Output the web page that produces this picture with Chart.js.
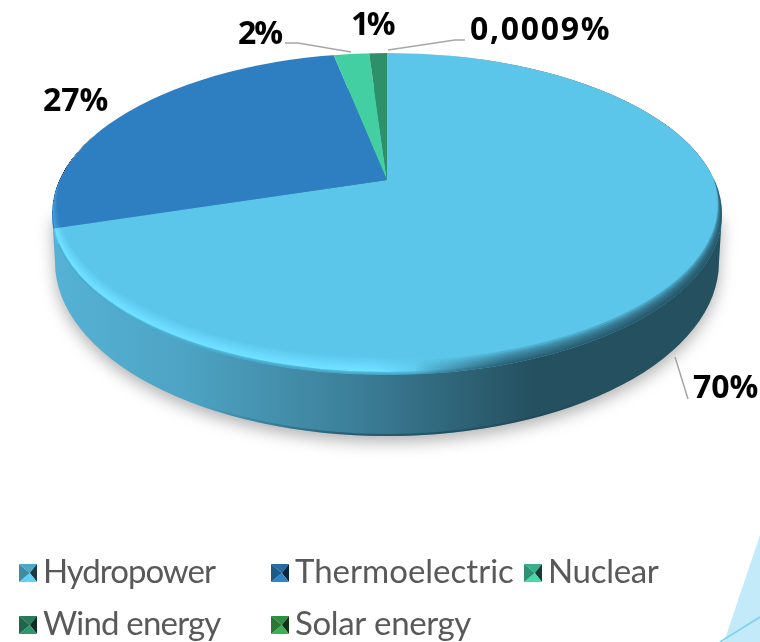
<!DOCTYPE html>
<html>
<head>
<meta charset="utf-8">
<style>
  html, body { margin: 0; padding: 0; background: #fff; }
  canvas { display: block; }
</style>
<script src="https://cdn.jsdelivr.net/npm/chart.js@4/dist/chart.umd.min.js"></script>
</head>
<body>
<canvas id="pie" width="760" height="642"></canvas>
<script>
// data
const categories = ['Hydropower', 'Thermoelectric', 'Nuclear', 'Wind energy', 'Solar energy'];
const shares = [70, 27, 2, 1, 0.0009];
const shareLabels = ['70%', '27%', '2%', '1%', '0,0009%'];
const sliceColors = ['#5bc6ea', '#2d7fc1', '#43cfa1', '#2e8f6b', '#3aa84f'];

// layout of the tilted pie
const topFace = { cx: 387, cy: 214, rx: 335, ry: 161 };
const bottomFace = { cx: 387, cy: 262, rx: 332, ry: 174 };
const apex = { x: 387, y: 180 };
const tilt = 0.447;
const wedgeReach = 450;

// where the value labels and their leader lines sit, same order as categories
const labelSpots = [[693, 398], [43, 111], [238, 44], [351, 35], [470, 40]];
const labelSpacing = ['0px', '0px', '-2px', '-2.5px', '1.7px'];
const leaders = [
    [[675, 357], [688, 399]],
    null,
    [[285, 43], [298, 43], [351, 52]],
    null,
    [[388, 50], [455, 40], [465, 40]]
];
const legendSpots = [[19, 564], [271, 564], [524, 564], [19, 616], [271, 616]];
const legendSpacing = ['-1px', '0px', '-0.3px', '-0.8px', '-0.35px'];

function ellipsePath(ctx, e) {
    ctx.ellipse(e.cx, e.cy, e.rx, e.ry, 0, 0, Math.PI * 2);
}

function shade(hex, f) {
    const n = parseInt(hex.slice(1), 16);
    const ch = s => Math.min(255, Math.round(((n >> s) & 255) * f));
    return `rgb(${ch(16)},${ch(8)},${ch(0)})`;
}

function drawBackdrop(ctx) {
    ctx.fillStyle = '#c2eaf9';
    ctx.beginPath();
    ctx.moveTo(760, 535);
    ctx.lineTo(760, 642);
    ctx.lineTo(724, 642);
    ctx.closePath();
    ctx.fill();
    ctx.strokeStyle = '#7fd0f0';
    ctx.lineWidth = 1.5;
    ctx.beginPath();
    ctx.moveTo(720, 642);
    ctx.lineTo(760, 617);
    ctx.stroke();
}

function drawSideWall(ctx) {
    const g = ctx.createLinearGradient(55, 0, 720, 0);
    g.addColorStop(0, '#55b2d5');
    g.addColorStop(0.2, '#4da3c3');
    g.addColorStop(0.45, '#3c7f99');
    g.addColorStop(0.72, '#25505f');
    g.addColorStop(1, '#25505f');
    ctx.save();
    ctx.shadowColor = 'rgba(0,0,0,0.3)';
    ctx.shadowBlur = 16;
    ctx.shadowOffsetY = 6;
    ctx.fillStyle = g;
    ctx.beginPath();
    ctx.moveTo(topFace.cx - topFace.rx, topFace.cy);
    ctx.lineTo(topFace.cx + topFace.rx, topFace.cy);
    ctx.lineTo(bottomFace.cx + bottomFace.rx, bottomFace.cy);
    ctx.lineTo(bottomFace.cx - bottomFace.rx, bottomFace.cy);
    ctx.closePath();
    ellipsePath(ctx, bottomFace);
    ctx.fill();
    ctx.restore();
    // darker lip along the bottom edge, fades out both ways
    const lip = ctx.createLinearGradient(200, 0, 620, 0);
    lip.addColorStop(0, 'rgba(20,60,78,0)');
    lip.addColorStop(0.35, 'rgba(20,60,78,0.5)');
    lip.addColorStop(0.6, 'rgba(20,60,78,0.5)');
    lip.addColorStop(1, 'rgba(20,60,78,0)');
    ctx.save();
    ctx.strokeStyle = lip;
    ctx.lineWidth = 2;
    ctx.beginPath();
    ctx.ellipse(bottomFace.cx, bottomFace.cy - 1, bottomFace.rx - 1, bottomFace.ry, 0, Math.PI * 0.15, Math.PI * 0.85);
    ctx.stroke();
    ctx.restore();
}

function ringEllipse(ctx, k) {
    ctx.ellipse(topFace.cx, topFace.cy - k * 0.7, topFace.rx - k * 0.3, topFace.ry - k * 0.3, 0, 0, Math.PI * 2);
}

function bevelRings(ctx, paint, from) {
    ctx.fillStyle = paint;
    for (let k = from + 2; k <= from + 14; k += 2) {
        ctx.beginPath();
        ringEllipse(ctx, from);
        ringEllipse(ctx, k);
        ctx.fill('evenodd');
    }
}

function drawBevel(ctx) {
    ctx.save();
    ctx.beginPath();
    ellipsePath(ctx, topFace);
    ctx.clip();
    // light side: adds to whatever slice colour is below, peak sits a little inside the edge
    const light = ctx.createLinearGradient(53, 0, 722, 0);
    light.addColorStop(0, 'rgba(3,4,4,1)');
    light.addColorStop(0.48, 'rgba(3,4,4,1)');
    light.addColorStop(0.56, 'rgba(3,4,4,0)');
    light.addColorStop(1, 'rgba(3,4,4,0)');
    ctx.globalCompositeOperation = 'lighter';
    bevelRings(ctx, light, 3);
    ctx.globalCompositeOperation = 'source-over';
    // soft dark fringe right at the edge, only on the hydro rim
    ctx.save();
    ctx.beginPath();
    ctx.rect(0, topFace.cy + 30, 760, 200);
    ctx.clip();
    for (let k = 1; k <= 3; k++) {
        ctx.fillStyle = 'rgba(40,110,140,0.14)';
        ctx.beginPath();
        ellipsePath(ctx, topFace);
        ringEllipse(ctx, k);
        ctx.fill('evenodd');
    }
    ctx.restore();
    // dark side
    const dark = ctx.createLinearGradient(53, 0, 722, 0);
    dark.addColorStop(0, 'rgba(35,80,98,0)');
    dark.addColorStop(0.54, 'rgba(35,80,98,0)');
    dark.addColorStop(0.68, 'rgba(35,80,98,0.2)');
    dark.addColorStop(1, 'rgba(35,80,98,0.3)');
    bevelRings(ctx, dark, 0);
    ctx.restore();
}

function drawLabels(ctx) {
    ctx.strokeStyle = '#a6a6a6';
    ctx.lineWidth = 1.5;
    leaders.forEach(pts => {
        if (!pts) return;
        ctx.beginPath();
        pts.forEach((p, i) => (i ? ctx.lineTo(p[0], p[1]) : ctx.moveTo(p[0], p[1])));
        ctx.stroke();
    });
    ctx.fillStyle = '#000';
    ctx.font = 'bold 32px "Open Sans"';
    ctx.textAlign = 'left';
    ctx.textBaseline = 'alphabetic';
    shareLabels.forEach((txt, i) => {
        ctx.letterSpacing = labelSpacing[i];
        ctx.fillText(txt, labelSpots[i][0], labelSpots[i][1]);
    });
    ctx.letterSpacing = '0px';
}

function drawMarker(ctx, x, y, color) {
    const s = 18, mx = x + s * 0.6, my = y + s / 2;
    const corners = [[x, y], [x + s, y], [x + s, y + s], [x, y + s]];
    const tones = [0.85, 0.3, 1.05, 0.7]; // top, right, bottom, left
    tones.forEach((t, i) => {
        const a = corners[i], b = corners[(i + 1) % 4];
        ctx.fillStyle = shade(color, t);
        ctx.beginPath();
        ctx.moveTo(a[0], a[1]);
        ctx.lineTo(b[0], b[1]);
        ctx.lineTo(mx, my);
        ctx.closePath();
        ctx.fill();
    });
}

function drawLegend(ctx) {
    ctx.font = '33px Lato';
    ctx.textAlign = 'left';
    ctx.textBaseline = 'alphabetic';
    categories.forEach((name, i) => {
        const [x, y] = legendSpots[i];
        drawMarker(ctx, x, y, sliceColors[i]);
        ctx.fillStyle = '#595959';
        ctx.letterSpacing = legendSpacing[i];
        ctx.fillText(name, x + 24, y + 19);
    });
    ctx.letterSpacing = '0px';
}

// squashes the library's pie into the tilted top face and paints the 3D bits around it
const tiltedPie = {
    id: 'tiltedPie',
    beforeDraw(chart) {
        drawBackdrop(chart.ctx);
    },
    beforeDatasetsDraw(chart) {
        const ctx = chart.ctx;
        const arc = chart.getDatasetMeta(0).data[0];
        const s = wedgeReach / arc.outerRadius;
        drawSideWall(ctx);
        ctx.save();
        ctx.beginPath();
        ellipsePath(ctx, topFace);
        ctx.clip();
        ctx.translate(apex.x, apex.y);
        ctx.scale(s, s * tilt);
        ctx.translate(-arc.x, -arc.y);
    },
    afterDatasetsDraw(chart) {
        const ctx = chart.ctx;
        ctx.restore();
        drawBevel(ctx);
        drawLabels(ctx);
        drawLegend(ctx);
    }
};

new Chart(document.getElementById('pie'), {
    type: 'pie',
    data: {
        labels: categories,
        datasets: [{
            data: shares,
            backgroundColor: sliceColors,
            borderWidth: 0,
            clip: false
        }]
    },
    options: {
        responsive: false,
        animation: false,
        layout: { padding: 0 },
        plugins: {
            legend: { display: false },
            tooltip: { enabled: false }
        }
    },
    plugins: [tiltedPie]
});
</script>
</body>
</html>
